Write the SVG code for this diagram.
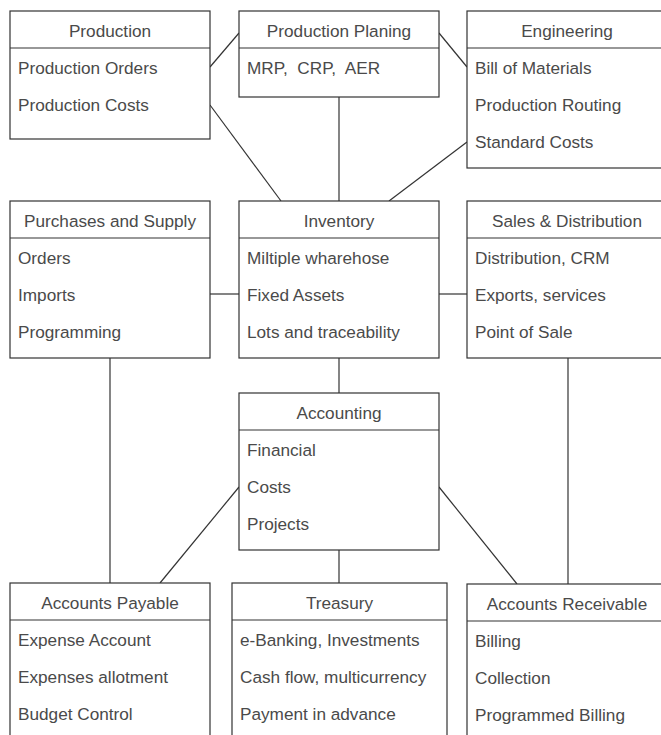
<svg xmlns="http://www.w3.org/2000/svg" width="661" height="735" viewBox="0 0 661 735">
<style>
.box{fill:#fff;stroke:#333;stroke-width:1.2}
.sep{stroke:#333;stroke-width:1.2}
.h{font-family:"Liberation Sans",Arial,sans-serif;font-size:17.2px;fill:#4a4a4a;text-anchor:middle}
.t{font-family:"Liberation Sans",Arial,sans-serif;font-size:17.2px;fill:#4a4a4a}
.c{stroke:#333;stroke-width:1.2;fill:none}
</style>
<rect width="661" height="735" fill="#fff"/>
<g id="connectors">
<line class="c" x1="210" y1="67" x2="239" y2="33"/>
<line class="c" x1="210" y1="105" x2="281" y2="201"/>
<line class="c" x1="339" y1="97" x2="339" y2="201"/>
<line class="c" x1="439" y1="33" x2="467" y2="67"/>
<line class="c" x1="467" y1="142" x2="389" y2="201"/>
<line class="c" x1="210" y1="294" x2="239" y2="294"/>
<line class="c" x1="439" y1="294" x2="467" y2="294"/>
<line class="c" x1="339" y1="358" x2="339" y2="393"/>
<line class="c" x1="110" y1="358" x2="110" y2="583"/>
<line class="c" x1="239" y1="487" x2="160" y2="583"/>
<line class="c" x1="339" y1="550" x2="339" y2="583"/>
<line class="c" x1="439" y1="487" x2="517" y2="584"/>
<line class="c" x1="568" y1="358" x2="568" y2="584"/>
</g>
<g id="production">
<rect class="box" x="10" y="11" width="200" height="128"/>
<line class="sep" x1="10" y1="48" x2="210" y2="48"/>
<text class="h" x="110" y="37">Production</text>
<text class="t" x="18" y="74">Production Orders</text>
<text class="t" x="18" y="111">Production Costs</text>
</g>
<g id="production-planing">
<rect class="box" x="239" y="11" width="200" height="86"/>
<line class="sep" x1="239" y1="48" x2="439" y2="48"/>
<text class="h" x="339" y="37">Production Planing</text>
<text class="t" x="247" y="74" xml:space="preserve">MRP,  CRP,  AER</text>
</g>
<g id="engineering">
<rect class="box" x="467" y="11" width="200" height="157"/>
<line class="sep" x1="467" y1="48" x2="667" y2="48"/>
<text class="h" x="567" y="37">Engineering</text>
<text class="t" x="475" y="74">Bill of Materials</text>
<text class="t" x="475" y="111">Production Routing</text>
<text class="t" x="475" y="148">Standard Costs</text>
</g>
<g id="purchases">
<rect class="box" x="10" y="201" width="200" height="157"/>
<line class="sep" x1="10" y1="238" x2="210" y2="238"/>
<text class="h" x="110" y="227">Purchases and Supply</text>
<text class="t" x="18" y="264">Orders</text>
<text class="t" x="18" y="301">Imports</text>
<text class="t" x="18" y="338">Programming</text>
</g>
<g id="inventory">
<rect class="box" x="239" y="201" width="200" height="157"/>
<line class="sep" x1="239" y1="238" x2="439" y2="238"/>
<text class="h" x="339" y="227">Inventory</text>
<text class="t" x="247" y="264">Miltiple wharehose</text>
<text class="t" x="247" y="301">Fixed Assets</text>
<text class="t" x="247" y="338">Lots and traceability</text>
</g>
<g id="sales">
<rect class="box" x="467" y="201" width="200" height="157"/>
<line class="sep" x1="467" y1="238" x2="667" y2="238"/>
<text class="h" x="567" y="227">Sales &amp; Distribution</text>
<text class="t" x="475" y="264">Distribution, CRM</text>
<text class="t" x="475" y="301">Exports, services</text>
<text class="t" x="475" y="338">Point of Sale</text>
</g>
<g id="accounting">
<rect class="box" x="239" y="393" width="200" height="157"/>
<line class="sep" x1="239" y1="430" x2="439" y2="430"/>
<text class="h" x="339" y="419">Accounting</text>
<text class="t" x="247" y="456">Financial</text>
<text class="t" x="247" y="493">Costs</text>
<text class="t" x="247" y="530">Projects</text>
</g>
<g id="accounts-payable">
<rect class="box" x="10" y="583" width="200" height="157"/>
<line class="sep" x1="10" y1="620" x2="210" y2="620"/>
<text class="h" x="110" y="609">Accounts Payable</text>
<text class="t" x="18" y="646">Expense Account</text>
<text class="t" x="18" y="683">Expenses allotment</text>
<text class="t" x="18" y="720">Budget Control</text>
</g>
<g id="treasury">
<rect class="box" x="232" y="583" width="215" height="157"/>
<line class="sep" x1="232" y1="620" x2="447" y2="620"/>
<text class="h" x="339.5" y="609">Treasury</text>
<text class="t" x="240" y="646">e-Banking, Investments</text>
<text class="t" x="240" y="683">Cash flow, multicurrency</text>
<text class="t" x="240" y="720">Payment in advance</text>
</g>
<g id="accounts-receivable">
<rect class="box" x="467" y="584" width="200" height="157"/>
<line class="sep" x1="467" y1="621" x2="667" y2="621"/>
<text class="h" x="567" y="610">Accounts Receivable</text>
<text class="t" x="475" y="647">Billing</text>
<text class="t" x="475" y="684">Collection</text>
<text class="t" x="475" y="721">Programmed Billing</text>
</g>
</svg>
